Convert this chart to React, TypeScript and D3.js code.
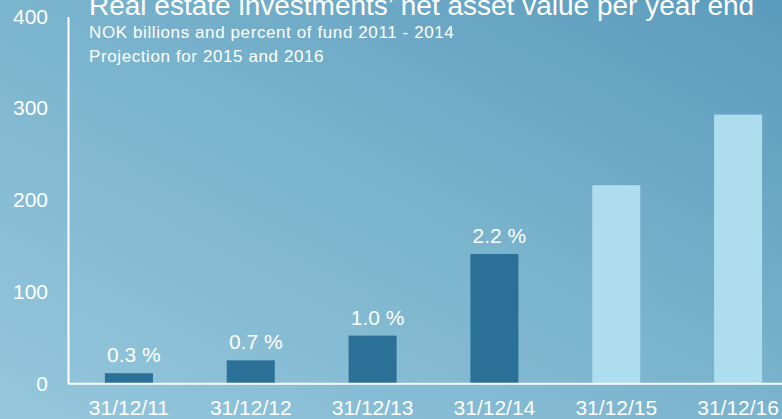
import React, { useRef, useEffect } from "react";
import * as d3 from "d3";

const categories = ["31/12/11", "31/12/12", "31/12/13", "31/12/14", "31/12/15", "31/12/16"];
const values = [11, 25, 52, 141, 216, 293];
const percentLabels = ["0.3 %", "0.7 %", "1.0 %", "2.2 %", "", ""];
const projected = [false, false, false, false, true, true];
const yTicks = [0, 100, 200, 300, 400];

const title = "Real estate investments\u2019 net asset value per year end";
const subtitle1 = "NOK billions and percent of fund 2011 - 2014";
const subtitle2 = "Projection for 2015 and 2016";

const App = () => {
  const svgRef = useRef<SVGSVGElement>(null);
  const width = 782,
    height = 419;
  const margin = { left: 68, right: -17, top: 16.5, bottom: 35.7 };
  const font = "'Liberation Sans', Arial, sans-serif";

  useEffect(() => {
    const svg = d3.select(svgRef.current);
    svg.selectAll("*").remove();

    // background gradient
    const defs = svg.append("defs");
    const grad = defs
      .append("linearGradient")
      .attr("id", "bg")
      .attr("x1", "0%")
      .attr("y1", "100%")
      .attr("x2", "100%")
      .attr("y2", "0%");
    grad.append("stop").attr("offset", "0%").attr("stop-color", "#95c7dc");
    grad.append("stop").attr("offset", "50%").attr("stop-color", "#7bb4cd");
    grad.append("stop").attr("offset", "100%").attr("stop-color", "#5b9bbd");
    svg.append("rect").attr("width", width).attr("height", height).attr("fill", "url(#bg)");

    const x = d3
      .scaleBand()
      .domain(categories)
      .range([margin.left, width - margin.right])
      .paddingInner(0.606)
      .paddingOuter(0.303);

    const y = d3
      .scaleLinear()
      .domain([0, 400])
      .range([height - margin.bottom, margin.top]);

    // bars
    svg
      .selectAll("rect.bar")
      .data(values)
      .enter()
      .append("rect")
      .attr("class", "bar")
      .attr("x", (d, i) => x(categories[i])!)
      .attr("y", (d) => y(d))
      .attr("width", x.bandwidth())
      .attr("height", (d) => y(0) - y(d))
      .attr("fill", (d, i) => (projected[i] ? "#aedded" : "#2a7097"));

    // percent labels
    svg
      .selectAll("text.pct")
      .data(values)
      .enter()
      .append("text")
      .attr("class", "pct")
      .attr("x", (d, i) => x(categories[i])! + x.bandwidth() / 2 + 5)
      .attr("y", (d) => y(d) - 11)
      .attr("text-anchor", "middle")
      .attr("fill", "white")
      .style("font-family", font)
      .style("font-size", "21px")
      .text((d, i) => percentLabels[i]);

    // y axis
    const yAxis = svg
      .append("g")
      .attr("transform", `translate(${margin.left},0)`)
      .call(d3.axisLeft(y).tickValues(yTicks).tickSize(0).tickPadding(20));
    yAxis.select(".domain").attr("stroke", "white").attr("stroke-width", 2);
    yAxis
      .selectAll("text")
      .attr("fill", "white")
      .style("font-family", font)
      .style("font-size", "21px");

    // x axis
    const xAxis = svg
      .append("g")
      .attr("transform", `translate(0,${y(0)})`)
      .call(d3.axisBottom(x).tickSize(0).tickPadding(17));
    xAxis.select(".domain").attr("stroke", "white").attr("stroke-width", 2);
    xAxis
      .selectAll("text")
      .attr("fill", "white")
      .style("font-family", font)
      .style("font-size", "21px");

    // titles
    svg
      .append("text")
      .attr("x", 89)
      .attr("y", 15)
      .attr("fill", "white")
      .style("font-family", font)
      .style("font-size", "28px")
      .text(title);
    svg
      .append("text")
      .attr("x", 89)
      .attr("y", 38)
      .attr("fill", "white")
      .style("font-family", font)
      .style("font-size", "17px")
      .style("letter-spacing", "0.6px")
      .text(subtitle1);
    svg
      .append("text")
      .attr("x", 89)
      .attr("y", 62)
      .attr("fill", "white")
      .style("font-family", font)
      .style("font-size", "17px")
      .style("letter-spacing", "0.6px")
      .text(subtitle2);
  }, []);

  return (
    <svg
      ref={svgRef}
      width={width}
      height={height}
      style={{ position: "absolute", left: 0, top: 0, display: "block" }}
    />
  );
};

export default App;
